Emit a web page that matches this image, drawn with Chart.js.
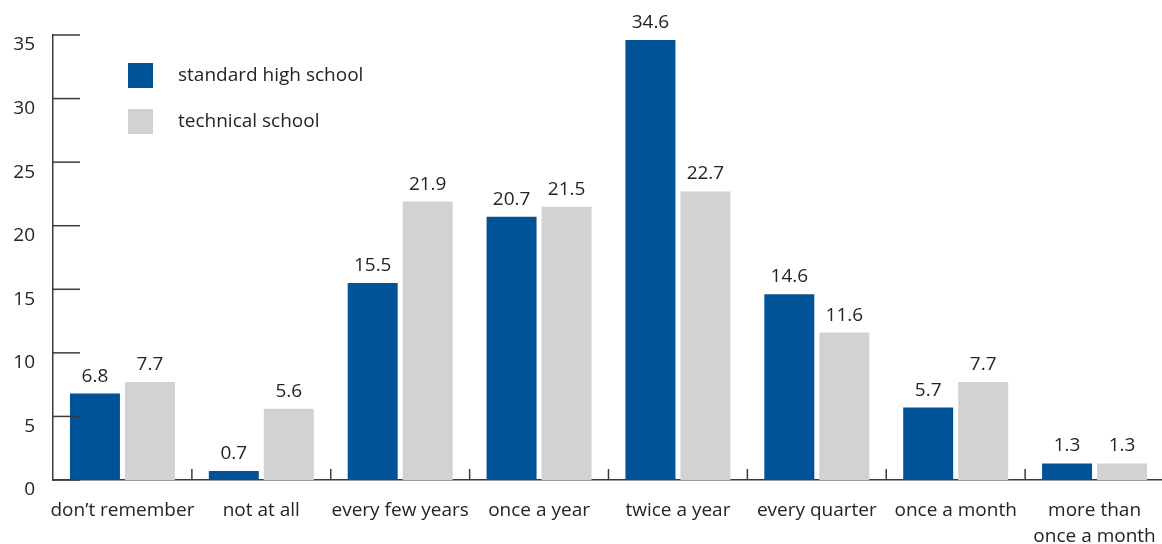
<!DOCTYPE html>
<html><head><meta charset="utf-8">
<script src="https://cdn.jsdelivr.net/npm/chart.js@4.4.0/dist/chart.umd.min.js"></script>
<style>html,body{margin:0;padding:0;background:#fff;overflow:hidden;}#wrap{width:1164px;height:544px;position:relative;}</style>
</head><body><div id="wrap"><canvas id="c"></canvas></div>
<script>
const categories = ["don\u2019t remember","not at all","every few years","once a year","twice a year","every quarter","once a month",["more than","once a month"]];
const standardHighSchool = [6.8,0.7,15.5,20.7,34.6,14.6,5.7,1.3];
const technicalSchool = [7.7,5.6,21.9,21.5,22.7,11.6,7.7,1.3];
const seriesNames = ["standard high school","technical school"];
const yMin = 0, yMax = 35, yStep = 5;

const BLUE = '#005396', GRAY = '#d1d2d4', TEXT = '#262324', AXIS = '#3a3a3a';
const FONT = '"Open Sans", sans-serif';
const FS = 19;

const decor = {
  id: 'decor',
  afterDatasetsDraw(chart) {
    const ctx = chart.ctx, xs = chart.scales.x, ys = chart.scales.y, ca = chart.chartArea;
    ctx.save();
    ctx.strokeStyle = AXIS; ctx.lineWidth = 1.5;
    ys.ticks.forEach(t => {
      const py = ys.getPixelForValue(t.value);
      ctx.beginPath(); ctx.moveTo(ca.left, py); ctx.lineTo(ca.left + 27, py); ctx.stroke();
    });
    for (let i = 1; i < categories.length; i++) {
      const px = (xs.getPixelForTick(i - 1) + xs.getPixelForTick(i)) / 2;
      ctx.beginPath(); ctx.moveTo(px, ca.bottom); ctx.lineTo(px, ca.bottom - 11); ctx.stroke();
    }
    ctx.fillStyle = TEXT;
    ctx.font = FS + 'px ' + FONT;
    ctx.textAlign = 'center'; ctx.textBaseline = 'alphabetic';
    chart.data.datasets.forEach((ds, di) => {
      chart.getDatasetMeta(di).data.forEach((bar, i) => {
        ctx.fillText(ds.data[i].toFixed(1), bar.x, bar.y - 12);
      });
    });
    // legend
    ctx.textAlign = 'left'; ctx.textBaseline = 'middle';
    chart.data.datasets.forEach((ds, di) => {
      const top = 63 + di * 46;
      ctx.fillStyle = ds.backgroundColor;
      ctx.fillRect(128, top, 25, 25);
      ctx.fillStyle = TEXT;
      ctx.fillText(ds.label, 178, top + 12.5);
    });
    ctx.restore();
  }
};

new Chart(document.getElementById('c'), {
  type: 'bar',
  data: {
    labels: categories,
    datasets: [
      { label: seriesNames[0], data: standardHighSchool, backgroundColor: BLUE },
      { label: seriesNames[1], data: technicalSchool, backgroundColor: GRAY }
    ]
  },
  options: {
    responsive: true, maintainAspectRatio: false, animation: false,
    layout: { padding: { top: 35, left: 0, right: 0, bottom: 0 } },
    datasets: { bar: { categoryPercentage: 0.792, barPercentage: 0.909 } },
    plugins: { legend: { display: false }, tooltip: { enabled: false } },
    scales: {
      x: {
        grid: { display: false, drawTicks: false },
        border: { display: true, color: AXIS, width: 1.5 },
        ticks: { color: TEXT, font: { family: FONT, size: FS, lineHeight: 1.37 }, padding: 18, maxRotation: 0, autoSkip: false },
        afterFit(s) { s.height = 64; s.paddingLeft = 0; s.paddingRight = 0; }
      },
      y: {
        min: yMin, max: yMax,
        grid: { display: false, drawTicks: false },
        border: { display: true, color: AXIS, width: 1.5 },
        ticks: { stepSize: yStep, color: TEXT, font: { family: FONT, size: FS }, padding: 18, labelOffset: 10 },
        afterFit(s) { s.width = 53; s.paddingTop = 0; s.paddingBottom = 0; }
      }
    }
  },
  plugins: [decor]
});
</script></body></html>
